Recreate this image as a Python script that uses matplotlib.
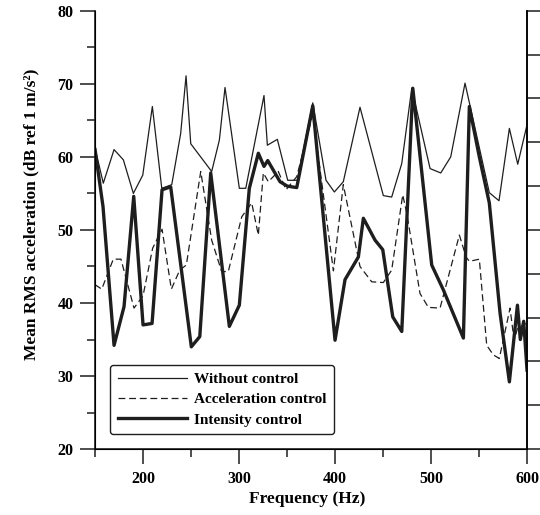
import matplotlib
matplotlib.use("Agg")
import matplotlib.pyplot as plt
from matplotlib.ticker import MultipleLocator

plt.rcParams['font.family'] = ['Liberation Serif', 'DejaVu Serif']
plt.rcParams['font.weight'] = 'bold'

# Without control
f_without = [150, 158.6, 169.8, 179.5, 189.9, 199.7, 209.7, 219.5, 229.9, 239.2, 244.8,
             249.7, 271.5, 279.5, 285.4, 300.3, 307, 326, 329.5, 339.9, 350.7, 360.7,
             376.8, 390.6, 399.3, 408.6, 426, 450.3, 459, 469.5, 479.9, 499, 510.1,
             520.5, 535.4, 560.7, 570.8, 581.6, 590.3, 600]
db_without = [61.2, 56.4, 61.0, 59.6, 55.0, 57.5, 66.9, 55.7, 56.2, 63.2, 71.1,
              61.8, 58.0, 62.3, 69.5, 55.7, 55.7, 68.4, 61.6, 62.4, 56.8, 56.8,
              67.4, 56.8, 55.2, 56.6, 66.8, 54.7, 54.5, 59.1, 69.4, 58.4, 57.8,
              60.0, 70.1, 55.1, 54.0, 63.9, 59.0, 64.4]

# Acceleration control
f_accel = [150, 157, 169, 177, 190.6, 200, 210, 219.8, 229.5, 238.2, 245.1, 260.1,
           271.5, 281.9, 288.8, 302.8, 313.2, 320.1, 325.3, 330.5, 340.9, 349, 360.1,
           376.8, 398.3, 408.6, 426, 438.2, 450.3, 459, 470.5, 474.7, 488.5, 497.2,
           509.4, 529.5, 536.5, 539.9, 550.3, 558, 564.9, 571.1, 582.3, 586.5, 590,
           599]
db_accel = [42.5, 41.9, 46.0, 46.0, 39.3, 41.0, 47.5, 50.1, 41.9, 44.5, 45.2, 58.0,
            48.6, 44.3, 44.3, 51.8, 53.7, 49.3, 57.8, 56.6, 58.0, 55.5, 57.3,
            65.8, 44.4, 56.2, 45.0, 42.9, 42.8, 44.5, 54.8, 52.3, 41.3, 39.4,
            39.3, 49.3, 46.3, 45.7, 46.0, 34.2, 32.9, 32.4, 39.3, 34.9, 36.5,
            37.2]

# Intensity control
f_intensity = [150, 158.3, 169.8, 180.2, 190.3, 200, 209.4, 219.8, 228.8, 250.3, 259.1,
               270.5, 289.9, 300.3, 310.7, 320.1, 326, 329.9, 342.7, 350.3, 360.1,
               376.8, 400, 410.4, 424.3, 429.5, 441.7, 449.7, 460.1, 469.5, 481,
               500.7, 512.8, 533.7, 539.9, 550.3, 560.7, 571.9, 581.6, 590, 593,
               596.5, 600]
db_intensity = [61.0, 53.2, 34.2, 39.5, 54.6, 37.0, 37.2, 55.5, 55.9, 34.0, 35.4,
                57.8, 36.8, 39.7, 55.7, 60.5, 58.7, 59.5, 56.6, 56.0, 55.8,
                67.0, 34.9, 43.2, 46.3, 51.6, 48.6, 47.3, 38.1, 36.1, 69.4,
                45.2, 41.8, 35.2, 66.9, 60.0, 53.7, 38.6, 29.2, 39.7, 35.0,
                37.5, 30.8]

labels = ["Without control", "Acceleration control", "Intensity control"]
x_ticks = [200, 300, 400, 500, 600]
y_ticks = [20, 30, 40, 50, 60, 70, 80]

fig = plt.figure(figsize=(5.4, 5.15), dpi=100)
ax = fig.add_axes([0.176, 0.128, 0.8, 0.851])
lc = '#1e1e1e'
ax.plot(f_without, db_without, color=lc, lw=0.9, label=labels[0])
ax.plot(f_accel, db_accel, color=lc, lw=0.9, dashes=(5.5, 3), label=labels[1])
ax.plot(f_intensity, db_intensity, color=lc, lw=2.4, label=labels[2])

ax.set_xlim(150, 600)
ax.set_ylim(20, 80)
ax.set_xticks(x_ticks)
ax.set_yticks(y_ticks)
ax.xaxis.set_minor_locator(MultipleLocator(50))
ax.yaxis.set_minor_locator(MultipleLocator(5))
ax.tick_params(which='major', direction='out', length=10.5, width=1.1, labelsize=11.5,
               color=lc, pad=5)
ax.tick_params(which='minor', direction='out', length=5.5, width=1.1, color=lc)
ax.spines['top'].set_visible(False)
for s in ['left', 'bottom', 'right']:
    ax.spines[s].set_linewidth(1.2)
    ax.spines[s].set_color(lc)
for lab in ax.get_xticklabels() + ax.get_yticklabels():
    lab.set_fontweight('bold')

ax2 = ax.twinx()
ax2.set_ylim(0, 10)
ax2.set_yticks(range(0, 11))
ax2.tick_params(axis='y', direction='out', length=10, width=1.1, labelright=False, color=lc)
ax2.spines['top'].set_visible(False)
ax2.spines['right'].set_linewidth(1.2)

ax.set_xlabel("Frequency (Hz)", fontsize=12.5, fontweight='bold')
ax.xaxis.set_label_coords(0.49, -0.095)
ax.set_ylabel("Mean RMS acceleration (dB ref 1 m/s²)", fontsize=12.5, fontweight='bold')
ax.yaxis.set_label_coords(-0.128, 0.535)

leg = ax.legend(loc='lower left', bbox_to_anchor=(0.035, 0.034), borderaxespad=0,
                handlelength=4.5, labelspacing=0.42, borderpad=0.5, handletextpad=0.5,
                fancybox=True, framealpha=1, edgecolor=lc,
                prop={'weight': 'bold', 'size': 11})
leg.get_frame().set_linewidth(1.0)

fig.savefig("out.png", dpi=100)
